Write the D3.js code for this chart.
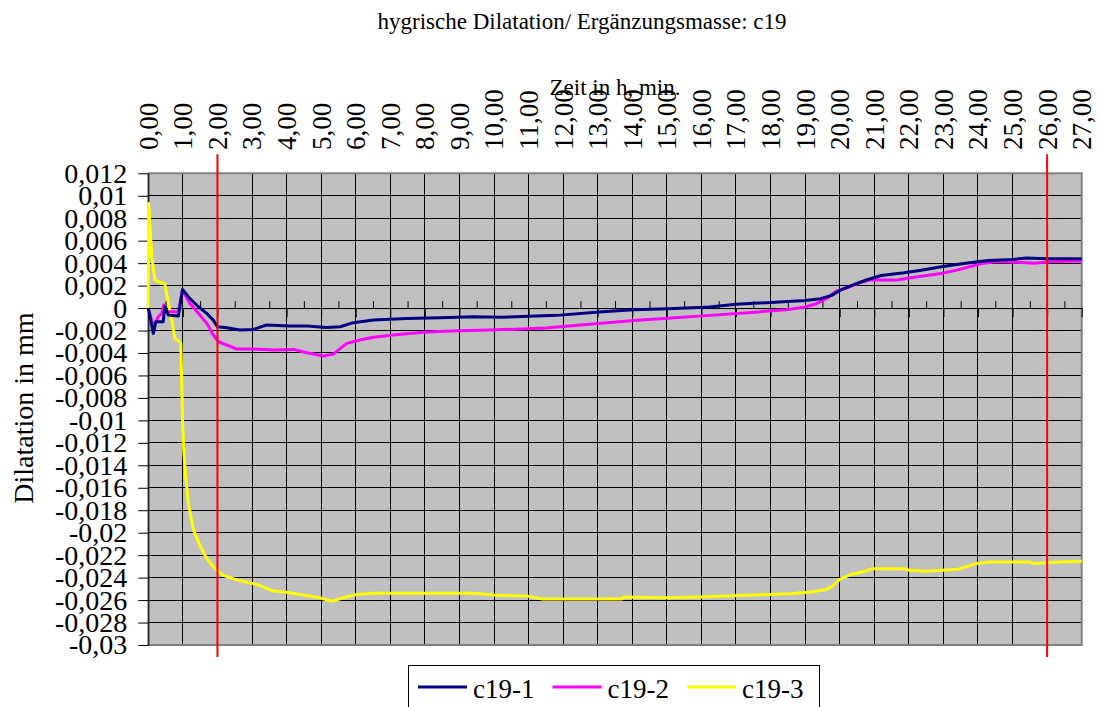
<!DOCTYPE html>
<html>
<head>
<meta charset="utf-8">
<script src="https://cdn.jsdelivr.net/npm/d3@7"></script>
<style>
  html, body { margin: 0; padding: 0; background: #fff; }
  svg { display: block; }
</style>
</head>
<body>
<svg id="chart" width="1098" height="707"></svg>
<script>
// Hygric dilatation measurements, time in hours
const seriesNames = ["c19-1", "c19-2", "c19-3"];
const seriesColors = ["#000080", "#ff00ff", "#ffff00"];

const t1 = [0, 0.145, 0.22, 0.43, 0.48, 0.58, 0.87, 0.99, 1.2, 1.45, 1.69, 1.88, 2.0, 2.27, 2.65, 3.04, 3.42, 4.1, 4.59, 5.16, 5.55, 5.93, 6.51, 7.47, 8.44, 9.4, 10.2, 11.83, 13.04, 14.04, 15.03, 16.24, 17.0, 18.0, 19.0, 19.44, 19.77, 20.0, 20.33, 20.77, 21.2, 21.87, 22.31, 22.98, 23.64, 24.3, 25.0, 25.4, 26.0, 27.0];
const v1 = [0, -0.00225, -0.00122, -0.00122, 0.00012, -0.00062, -0.0007, 0.00166, 0.00086, 0.00012, -0.00047, -0.00107, -0.00166, -0.00175, -0.00196, -0.0019, -0.00151, -0.0016, -0.0016, -0.00172, -0.00166, -0.0013, -0.00107, -0.00092, -0.00086, -0.00077, -0.00082, -0.00065, -0.00036, -0.00015, -0.00006, 0.00009, 0.00033, 0.0005, 0.00068, 0.00083, 0.00113, 0.00157, 0.002, 0.0025, 0.0029, 0.00314, 0.00335, 0.0037, 0.004, 0.00424, 0.00433, 0.00445, 0.0044, 0.0044];

const t2 = [0, 0.145, 0.29, 0.39, 0.45, 0.53, 0.87, 0.99, 1.2, 1.45, 1.69, 1.88, 2.03, 2.27, 2.56, 3.04, 3.62, 4.2, 4.59, 5.06, 5.35, 5.74, 6.12, 6.51, 7.09, 7.95, 8.92, 9.88, 11.5, 12.93, 14.04, 15.14, 16.24, 17.35, 18.45, 19.0, 19.33, 19.66, 19.89, 20.22, 20.55, 20.88, 21.65, 22.31, 22.98, 23.42, 24.08, 24.52, 25.07, 25.63, 26.18, 27.0];
const v2 = [0, -0.00166, -0.00077, -0.00047, 0.00027, -0.00033, -0.00033, 0.0016, 0.00042, -0.00047, -0.00136, -0.0024, -0.003, -0.00329, -0.00365, -0.00365, -0.00374, -0.00368, -0.00398, -0.00427, -0.0041, -0.00314, -0.00285, -0.0026, -0.0024, -0.00216, -0.00202, -0.00196, -0.00178, -0.00139, -0.0011, -0.00089, -0.00065, -0.00041, -0.00015, 0.00009, 0.00039, 0.00092, 0.00151, 0.0018, 0.00222, 0.0025, 0.0025, 0.00281, 0.00311, 0.0034, 0.00394, 0.00415, 0.00409, 0.004, 0.00415, 0.0042];

const t3 = [0, 0.01, 0.1, 0.19, 0.48, 0.53, 0.68, 0.77, 0.94, 0.97, 0.99, 1.03, 1.09, 1.16, 1.3, 1.5, 1.69, 1.93, 2.17, 2.56, 3.14, 3.62, 4.0, 4.58, 4.97, 5.3, 5.64, 6.03, 6.51, 9.4, 10.0, 11.0, 11.4, 13.7, 13.75, 14.93, 15.97, 17.3, 18.56, 19.18, 19.6, 19.8, 20.0, 20.32, 20.74, 20.94, 21.88, 22.0, 22.5, 22.96, 23.43, 23.95, 24.36, 25.5, 25.6, 26.4, 27.0];
const v3 = [0, 0.0093, 0.0046, 0.0025, 0.00213, 0.0013, -0.00107, -0.0027, -0.0031, -0.007, -0.01, -0.0129, -0.0153, -0.0174, -0.0197, -0.0212, -0.0223, -0.0232, -0.0238, -0.0242, -0.0246, -0.0252, -0.0253, -0.0256, -0.0258, -0.0261, -0.0258, -0.0255, -0.0254, -0.0254, -0.02555, -0.02567, -0.0259, -0.0259, -0.02573, -0.0258, -0.02573, -0.02558, -0.02543, -0.02528, -0.02507, -0.02475, -0.02415, -0.02373, -0.02343, -0.0232, -0.0232, -0.02334, -0.02343, -0.02334, -0.02325, -0.02275, -0.0226, -0.0226, -0.02275, -0.0226, -0.02254];

const xTicks = [0,1,2,3,4,5,6,7,8,9,10,11,12,13,14,15,16,17,18,19,20,21,22,23,24,25,26,27];
const xTickLabels = ["0,00","1,00","2,00","3,00","4,00","5,00","6,00","7,00","8,00","9,00","10,00","11,00","12,00","13,00","14,00","15,00","16,00","17,00","18,00","19,00","20,00","21,00","22,00","23,00","24,00","25,00","26,00","27,00"];
const yTicks = [0.012,0.01,0.008,0.006,0.004,0.002,0,-0.002,-0.004,-0.006,-0.008,-0.01,-0.012,-0.014,-0.016,-0.018,-0.02,-0.022,-0.024,-0.026,-0.028,-0.03];
const yTickLabels = ["0,012","0,01","0,008","0,006","0,004","0,002","0","-0,002","-0,004","-0,006","-0,008","-0,01","-0,012","-0,014","-0,016","-0,018","-0,02","-0,022","-0,024","-0,026","-0,028","-0,03"];
const markerTimes = [2, 26];

const titleText = "hygrische Dilatation/ Ergänzungsmasse: c19";
const xTitle = "Zeit in h, min.";
const yTitle = "Dilatation in mm";

const FONT = "Liberation Serif";

// layout
const plot = { left: 148.3, right: 1081.7, top: 173.3, bottom: 645 };
const svg = d3.select("#chart").attr("font-family", FONT);

const x = d3.scaleLinear().domain([0, 27]).range([plot.left, plot.right]);
const y = d3.scaleLinear().domain([-0.03, 0.012]).range([plot.bottom, plot.top]);

function txt(sel, size) {
  return sel.attr("font-family", FONT).attr("font-size", size).attr("fill", "#000");
}

// plot background
svg.append("rect")
  .attr("x", plot.left).attr("y", plot.top)
  .attr("width", plot.right - plot.left).attr("height", plot.bottom - plot.top)
  .attr("fill", "#c0c0c0");

// grid
const grid = svg.append("g").attr("stroke", "#000").attr("stroke-width", 1).attr("shape-rendering", "crispEdges");
grid.selectAll("line.v").data(xTicks.slice(1, -1)).join("line")
  .attr("x1", d => x(d)).attr("x2", d => x(d))
  .attr("y1", plot.top).attr("y2", plot.bottom);
grid.selectAll("line.h").data(yTicks.slice(1, -1)).join("line")
  .attr("x1", plot.left).attr("x2", plot.right)
  .attr("y1", d => y(d)).attr("y2", d => y(d));

// plot frame
svg.append("rect")
  .attr("x", plot.left).attr("y", plot.top)
  .attr("width", plot.right - plot.left).attr("height", plot.bottom - plot.top)
  .attr("fill", "none").attr("stroke", "#808080").attr("stroke-width", 2);

// horizontal time axis crossing at zero: major ticks below, minor ticks above
const zeroAxis = svg.append("g").attr("transform", `translate(0,${y(0)})`);
zeroAxis.call(d3.axisBottom(x).tickValues(xTicks).tickSize(9).tickSizeOuter(0).tickFormat(""))
  .call(g => g.select(".domain").attr("stroke", "#000"));
const halfHours = xTicks.slice(0, -1).map(d => d + 0.5);
zeroAxis.append("g").call(d3.axisTop(x).tickValues(halfHours).tickSize(7).tickSizeOuter(0).tickFormat(""))
  .call(g => g.select(".domain").remove());

// left value axis
svg.append("g").attr("transform", `translate(${plot.left},0)`)
  .call(d3.axisLeft(y).tickValues(yTicks).tickSize(10).tickSizeOuter(0).tickPadding(11)
    .tickFormat((d, i) => yTickLabels[i]))
  .call(g => g.attr("font-family", FONT).attr("font-size", 28))
  .call(g => g.select(".domain").attr("stroke", "#000"))
  .call(g => txt(g.selectAll("text"), 28));

// titles
txt(svg.append("text"), 23).attr("x", 582).attr("y", 29).attr("text-anchor", "middle").text(titleText);
txt(svg.append("text"), 23).attr("x", 615).attr("y", 95).attr("text-anchor", "middle").text(xTitle);
txt(svg.append("text"), 28).attr("transform", "translate(33,408) rotate(-90)")
  .attr("text-anchor", "middle").text(yTitle);

// time labels along the top
txt(svg.append("g").selectAll("text").data(xTicks).join("text"), 27)
  .attr("transform", d => `translate(${x(d)},150) rotate(-90)`)
  .attr("dy", "0.35em").attr("text-anchor", "start")
  .text((d, i) => xTickLabels[i]);

// series
const line = d3.line().x(d => x(d[0])).y(d => y(d[1]));
const seriesData = [d3.zip(t1, v1), d3.zip(t2, v2), d3.zip(t3, v3)];
[2, 1, 0].forEach(i => {
  svg.append("path").datum(seriesData[i])
    .attr("fill", "none").attr("stroke", seriesColors[i])
    .attr("stroke-width", 3).attr("stroke-linejoin", "round")
    .attr("d", line);
});

// marker lines at 2 h and 26 h
svg.append("g").selectAll("line").data(markerTimes).join("line")
  .attr("x1", d => x(d)).attr("x2", d => x(d))
  .attr("y1", plot.top - 19).attr("y2", plot.bottom + 12)
  .attr("stroke", "#ff0000").attr("stroke-width", 2);

// legend
const legend = svg.append("g");
legend.append("rect").attr("x", 408.5).attr("y", 665.5).attr("width", 411).attr("height", 60)
  .attr("fill", "#fff").attr("stroke", "#000").attr("stroke-width", 1);
seriesNames.forEach((name, i) => {
  const lx = 418 + i * 134.5;
  legend.append("line").attr("x1", lx).attr("x2", lx + 49).attr("y1", 687).attr("y2", 687)
    .attr("stroke", seriesColors[i]).attr("stroke-width", 3);
  txt(legend.append("text"), 27).attr("x", lx + 55).attr("y", 698).text(name);
});
</script>
</body>
</html>
